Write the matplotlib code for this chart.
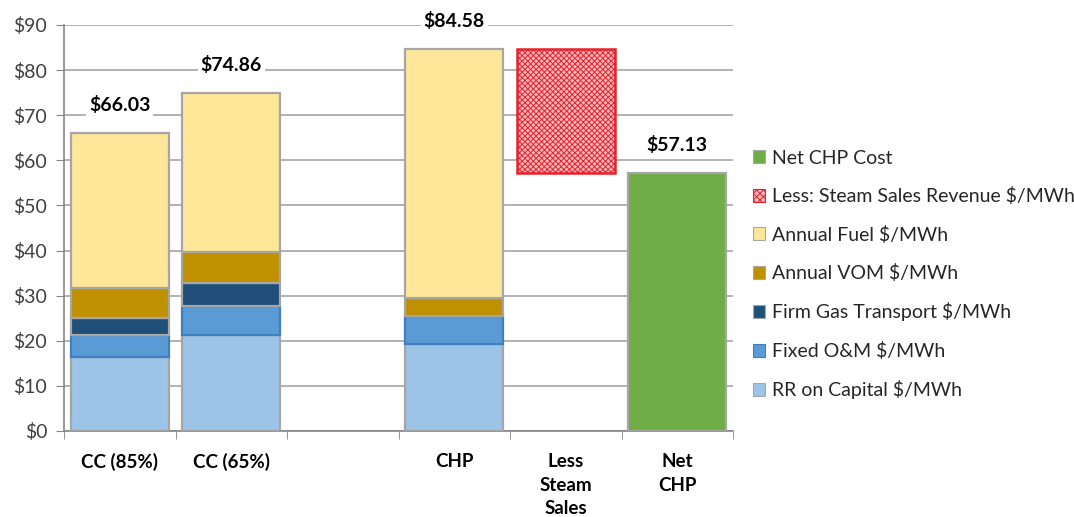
import matplotlib
matplotlib.use("Agg")
import matplotlib.pyplot as plt
from matplotlib.patches import Patch
import numpy as np

plt.rcParams['font.family'] = ['Lato', 'DejaVu Sans']
plt.rcParams['hatch.linewidth'] = 0.7

categories = ["CC (85%)", "CC (65%)", "", "CHP", "Less\nSteam\nSales", "Net\nCHP"]
rr_capital = [16.4, 21.3, 0, 19.3, 0, 0]
fixed_om = [4.8, 6.4, 0, 6.3, 0, 0]
firm_gas = [3.8, 5.0, 0, 0, 0, 0]
annual_vom = [6.7, 7.0, 0, 3.8, 0, 0]
annual_fuel = [34.33, 35.16, 0, 55.18, 0, 0]
steam_revenue = [0, 0, 0, 0, 27.45, 0]
net_chp = [0, 0, 0, 0, 0, 57.13]
totals = [66.03, 74.86, None, 84.58, None, 57.13]
yticks = [0, 10, 20, 30, 40, 50, 60, 70, 80, 90]

fig = plt.figure(figsize=(10.74, 5.17), dpi=100)
ax = fig.add_axes([64/1074, 1-431/517, (733-64)/1074, (431-25)/517])

x = np.arange(len(categories))
w = 0.88
grey = '#a6a6a6'
bottom = np.zeros(len(categories))
series = [
    (rr_capital, '#9dc3e6', grey, 'RR on Capital $/MWh'),
    (fixed_om, '#5b9bd5', '#3f7fc0', 'Fixed O&M $/MWh'),
    (firm_gas, '#1f4e79', grey, 'Firm Gas Transport $/MWh'),
    (annual_vom, '#bf9000', grey, 'Annual VOM $/MWh'),
    (annual_fuel, '#ffe699', grey, 'Annual Fuel $/MWh'),
]
handles = {}
for vals, fc, ec, lab in series:
    vals = np.array(vals, dtype=float)
    mask = vals > 0
    ax.bar(x[mask], vals[mask], w, bottom=bottom[mask], color=fc, edgecolor=ec,
           linewidth=1.6, zorder=3)
    bottom += vals
    handles[lab] = Patch(facecolor=fc, edgecolor=grey if ec == grey else ec, linewidth=0.8)

# steam sales revenue (floating)
sv = np.array(steam_revenue, dtype=float)
m = sv > 0
ax.bar(x[m], sv[m], w, bottom=np.array(net_chp)[5], facecolor='#f7b9be',
       edgecolor='#e8202a', hatch='xxxxxx', linewidth=1.8, zorder=3)
handles['Less: Steam Sales Revenue $/MWh'] = Patch(facecolor='#f7b9be', edgecolor='#e8202a',
                                                    hatch='xxxxx', linewidth=0.8)
nv = np.array(net_chp, dtype=float)
m = nv > 0
ax.bar(x[m], nv[m], w, color='#70ad47', edgecolor=grey, linewidth=1.6, zorder=3)
handles['Net CHP Cost'] = Patch(facecolor='#70ad47', edgecolor=grey, linewidth=0.8)

for xi, t in zip(x, totals):
    if t is None:
        continue
    ax.text(xi, t + 6.3, f"${t:.2f}", ha='center', va='center', fontsize=14,
            fontweight='bold', zorder=5,
            bbox=dict(facecolor='white', edgecolor='none', pad=2))

ax.set_xlim(-0.5, len(categories) - 0.5)
ax.set_ylim(0, 90)
ax.set_yticks(yticks)
ax.set_yticklabels([f"${v}" for v in yticks], fontsize=14, color='#404040')
ax.set_xticks(x)
ax.set_xticklabels(categories, fontsize=13.5, fontweight='bold', va='top', linespacing=1.45)
ax.set_xticks(np.arange(-0.5, len(categories)), minor=True)
ax.tick_params(axis='x', which='major', length=0, pad=16)
ax.tick_params(axis='x', which='minor', length=6, color='#868686', direction='out')
ax.tick_params(axis='y', length=6, color='#868686', direction='out', pad=6)
ax.yaxis.grid(True, color='#a6a6a6', linewidth=1.2, zorder=0)
ax.set_axisbelow(True)
for s in ['top', 'right']:
    ax.spines[s].set_visible(False)
for s in ['left', 'bottom']:
    ax.spines[s].set_color('#868686')
    ax.spines[s].set_linewidth(1.2)

order = ['Net CHP Cost', 'Less: Steam Sales Revenue $/MWh', 'Annual Fuel $/MWh',
         'Annual VOM $/MWh', 'Firm Gas Transport $/MWh', 'Fixed O&M $/MWh',
         'RR on Capital $/MWh']
leg = fig.legend([handles[k] for k in order], order, loc='upper left',
                 bbox_to_anchor=(745/1074, 1-142/517), frameon=False, fontsize=14,
                 handlelength=0.65, handleheight=0.65, handletextpad=0.35,
                 labelspacing=1.05, borderaxespad=0)
for t in leg.get_texts():
    t.set_color('#262626')

fig.savefig('out.png', dpi=100)
